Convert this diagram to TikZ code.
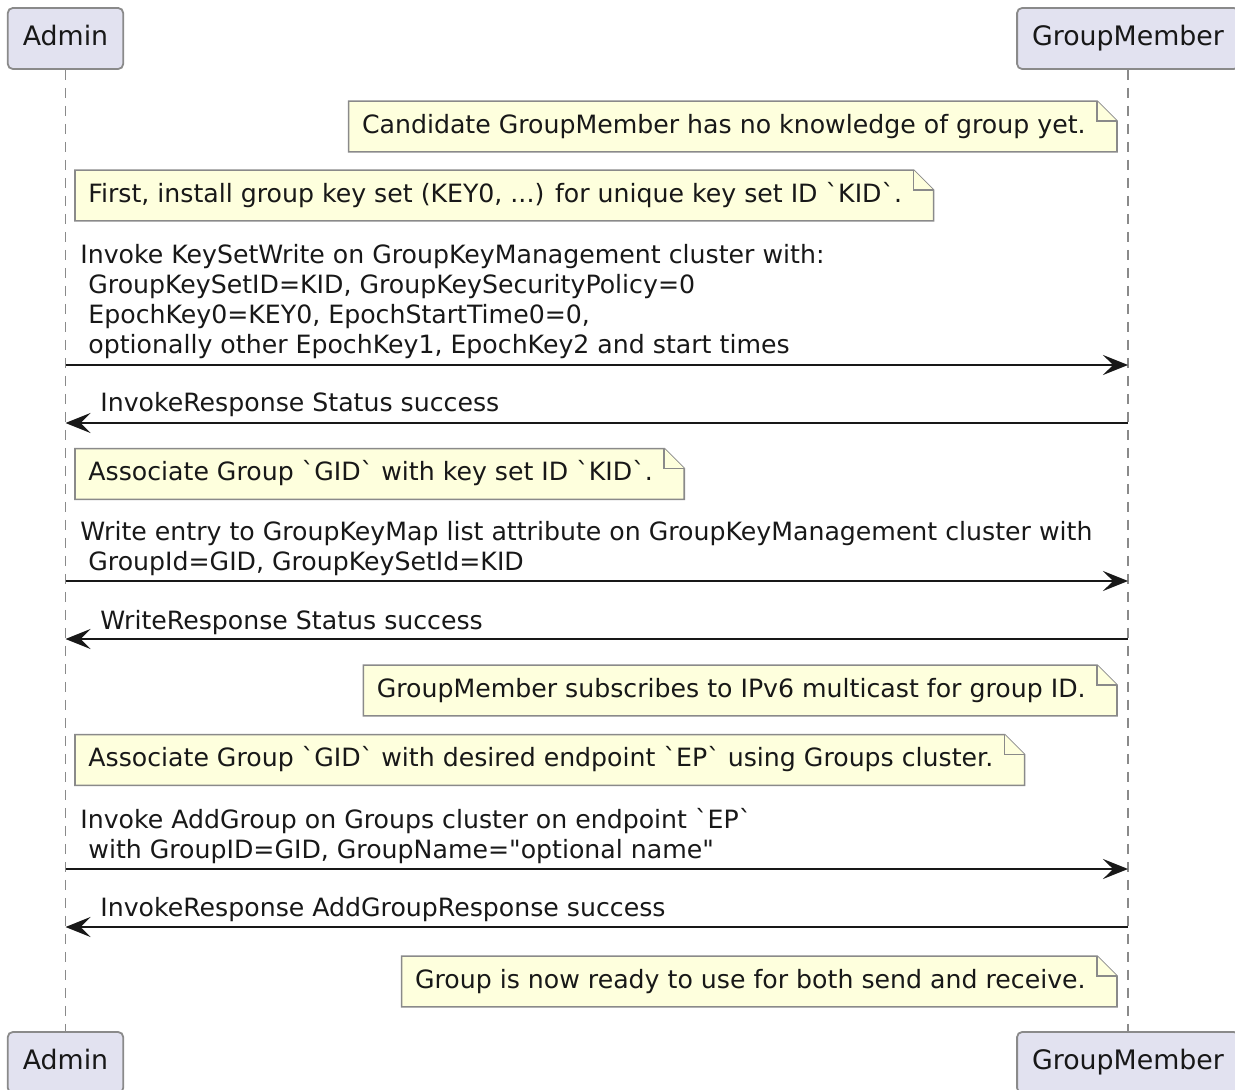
\documentclass[tikz,border=0pt]{standalone}
\usepackage{fontspec}
\usepackage{tikz}
\usetikzlibrary{arrows.meta, calc, backgrounds}
\newfontfamily\umlfont{DejaVu Sans}[Ligatures=TeXOff]
\definecolor{umlink}{HTML}{181818}
\definecolor{umlgrey}{HTML}{8A8A8A}
\definecolor{actorfill}{HTML}{E2E2F0}
\definecolor{notefill}{HTML}{FEFFDD}

% folded note outline round a text node
\newcommand{\notebg}[1]{%
    \filldraw[noteline] ($(#1.north west)+(-13,0)$) -- ($(#1.north east)+(11,0)$) -- ($(#1.north east)+(31,20)$) -- ($(#1.south east)+(31,0)$) -- ($(#1.south west)+(-13,0)$) -- cycle;
    \draw[noteline] ($(#1.north east)+(11,0)$) -- ($(#1.north east)+(11,20)$) -- ($(#1.north east)+(31,20)$);
}

\begin{document}
\begin{tikzpicture}[
        x=0.5pt, y=-0.5pt,
        actor/.style={draw=umlgrey, fill=actorfill, line width=0.9pt, rounded corners=2.5pt, inner xsep=7.5pt, minimum height=30.5pt, text height=9.8pt, text depth=2.6pt, text=umlink, font=\umlfont\fontsize{13.4}{15}\selectfont},
        note/.style={inner sep=0pt, minimum height=25pt, text height=9.5pt, text depth=2.6pt, text=umlink, font=\umlfont\fontsize{12.6}{15}\selectfont},
        noteline/.style={draw=umlgrey, fill=notefill, line width=0.8pt, line join=miter},
        label/.style={inner sep=0pt, anchor=base west, align=left, text=umlink, font=\umlfont\fontsize{12.6}{15}\selectfont},
        lifeline/.style={umlgrey, line width=0.9pt, dash pattern=on 5pt off 4pt},
        msg/.style={-{Stealth[length=12.5pt, width=10pt, inset=5pt]}, umlink, line width=0.9pt}
    ]
        \useasboundingbox (0,0) rectangle (1235,1090);

        \node (admin) [actor] at (65.5,38.5) {Admin};
        \node (member) [actor] at (1128,38.5) {GroupMember};
        \node (adminfoot) [actor] at (65.5,1062.5) {Admin};
        \node (memberfoot) [actor] at (1128,1062.5) {GroupMember};

        \draw [lifeline] (admin.south) -- (adminfoot.north);
        \draw [lifeline] (member.south) -- (memberfoot.north);

        % notes
        \node (candidate) [note, anchor=east] at (1086,126.5) {Candidate GroupMember has no knowledge of group yet.};
        \node (installkey) [note, anchor=west] at (88,195.5) {First, install group key set (KEY0, ...) for unique key set ID `KID`.};
        \node (mapnote) [note, anchor=west] at (88,474) {Associate Group `GID` with key set ID `KID`.};
        \node (subscribe) [note, anchor=east] at (1086,690.5) {GroupMember subscribes to IPv6 multicast for group ID.};
        \node (epnote) [note, anchor=west] at (88,760) {Associate Group `GID` with desired endpoint `EP` using Groups cluster.};
        \node (ready) [note, anchor=east] at (1086,981.5) {Group is now ready to use for both send and receive.};

        \begin{scope}[on background layer]
            \notebg{candidate}
            \notebg{installkey}
            \notebg{mapnote}
            \notebg{subscribe}
            \notebg{epnote}
            \notebg{ready}
        \end{scope}

        % messages (base = last line)
        \node (keyset) [label] at (80,354) {Invoke KeySetWrite on GroupKeyManagement cluster with:\\\ GroupKeySetID=KID, GroupKeySecurityPolicy=0\\\ EpochKey0=KEY0, EpochStartTime0=0,\\\ optionally other EpochKey1, EpochKey2 and start times};
        \coordinate (keysetY) at (0,365);
        \draw [msg] (admin |- keysetY) -- (member |- keysetY);

        \node (keysetok) [label] at (100,412) {InvokeResponse Status success};
        \coordinate (keysetokY) at (0,423);
        \draw [msg] (member |- keysetokY) -- (admin |- keysetokY);

        \node (mapwrite) [label] at (80,570) {Write entry to GroupKeyMap list attribute on GroupKeyManagement cluster with\\\ GroupId=GID, GroupKeySetId=KID};
        \coordinate (mapwriteY) at (0,581);
        \draw [msg] (admin |- mapwriteY) -- (member |- mapwriteY);

        \node (mapok) [label] at (100,629) {WriteResponse Status success};
        \coordinate (mapokY) at (0,639);
        \draw [msg] (member |- mapokY) -- (admin |- mapokY);

        \node (addgroup) [label] at (80,858) {Invoke AddGroup on Groups cluster on endpoint `EP`\\\ with GroupID=GID, GroupName="optional name"};
        \coordinate (addgroupY) at (0,869);
        \draw [msg] (admin |- addgroupY) -- (member |- addgroupY);

        \node (addok) [label] at (100,916) {InvokeResponse AddGroupResponse success};
        \coordinate (addokY) at (0,927);
        \draw [msg] (member |- addokY) -- (admin |- addokY);
    \end{tikzpicture}
\end{document}
